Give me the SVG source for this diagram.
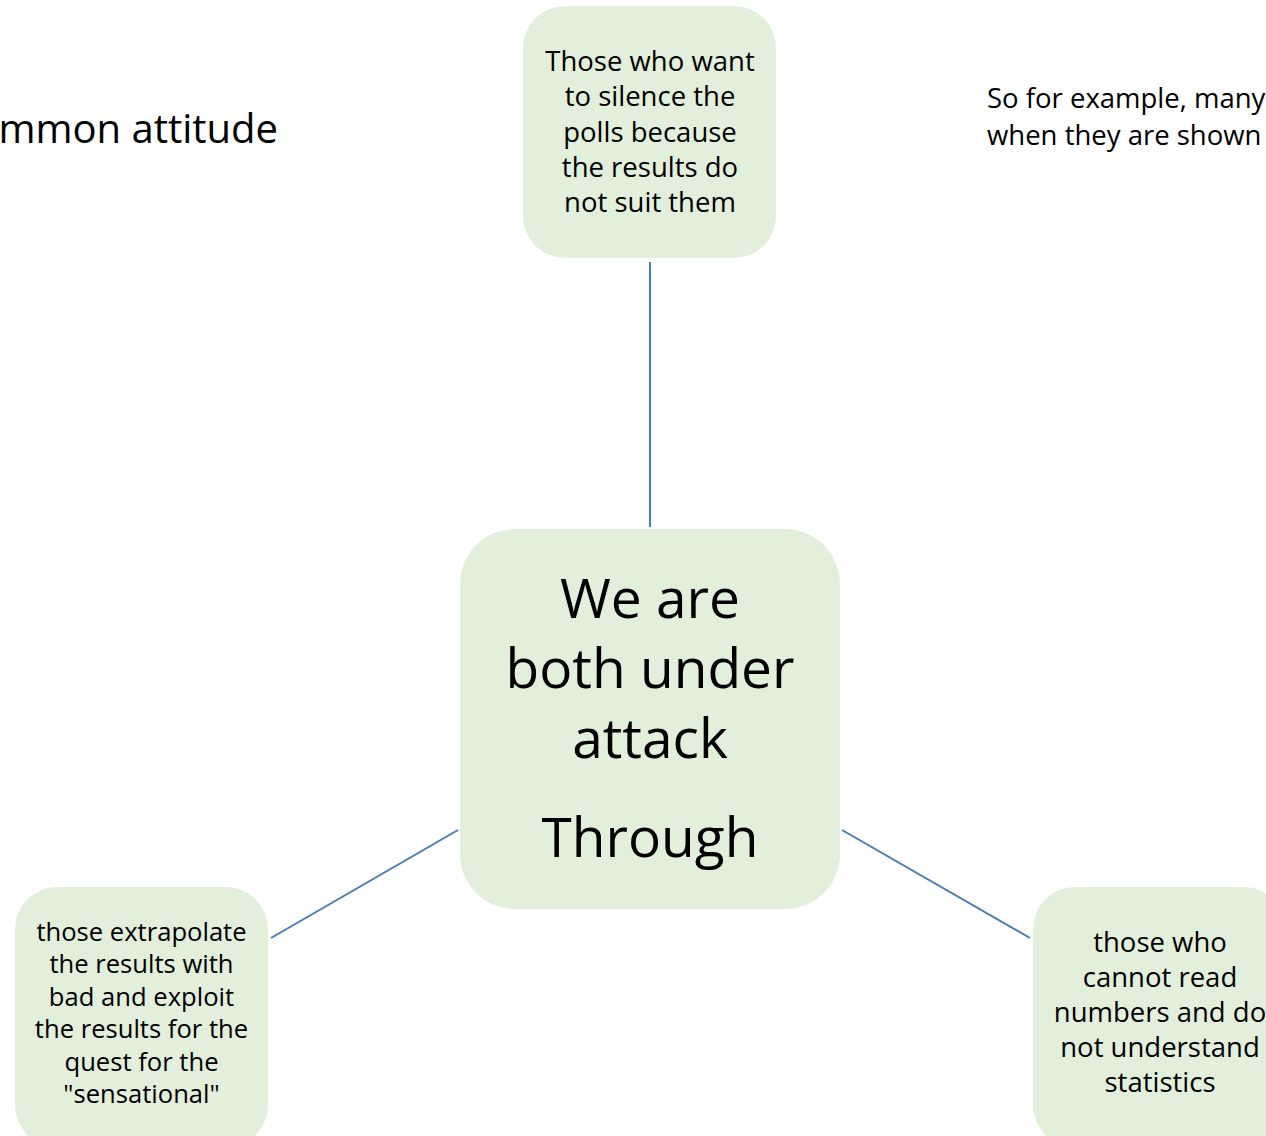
<svg xmlns="http://www.w3.org/2000/svg" width="1266" height="1136" viewBox="0 0 1266 1136">
<style>
.box{fill:#e2efda;stroke:none}
.t{font-family:"Open Sans","Noto Sans",sans-serif;fill:#000;text-anchor:middle}
.s{font-size:27.5px}
.m{font-size:25.6px}
.b{font-size:55px}
.conn{stroke:#4a7bb0;stroke-width:2;fill:none}
</style>
<rect width="1266" height="1136" fill="#ffffff"/>
<text class="t" x="278" y="143" style="font-size:40px;text-anchor:end">A common attitude</text>
<text class="t s" x="987" y="108" style="text-anchor:start">So for example, many</text>
<text class="t s" x="987" y="145" style="text-anchor:start">when they are shown</text>
<g id="connectors">
<line class="conn" x1="650" y1="262" x2="650" y2="527"/>
<line class="conn" x1="458" y1="830" x2="271" y2="938"/>
<line class="conn" x1="842" y1="830" x2="1030" y2="938"/>
</g>
<g id="node-top">
<rect class="box" x="523" y="6" width="253" height="252" rx="42"/>
<text class="t s" x="650" y="71">Those who want</text>
<text class="t s" x="650" y="106">to silence the</text>
<text class="t s" x="650" y="141.5">polls because</text>
<text class="t s" x="650" y="177">the results do</text>
<text class="t s" x="650" y="212">not suit them</text>
</g>
<g id="node-center">
<rect class="box" x="460" y="529" width="380" height="380" rx="55"/>
<text class="t b" x="650" y="618">We are</text>
<text class="t b" x="650" y="688">both under</text>
<text class="t b" x="650" y="758">attack</text>
<text class="t b" x="650" y="857">Through</text>
</g>
<g id="node-left">
<rect class="box" x="15" y="887" width="253" height="260" rx="42"/>
<text class="t m" x="141.5" y="941">those extrapolate</text>
<text class="t m" x="141.5" y="973.4">the results with</text>
<text class="t m" x="141.5" y="1005.8">bad and exploit</text>
<text class="t m" x="141.5" y="1038.2">the results for the</text>
<text class="t m" x="141.5" y="1070.6">quest for the</text>
<text class="t m" x="141.5" y="1103">"sensational"</text>
</g>
<g id="node-right">
<rect class="box" x="1033" y="887" width="253" height="260" rx="42"/>
<text class="t s" x="1160" y="952">those who</text>
<text class="t s" x="1160" y="987">cannot read</text>
<text class="t s" x="1160" y="1022">numbers and do</text>
<text class="t s" x="1160" y="1057">not understand</text>
<text class="t s" x="1160" y="1092">statistics</text>
</g>
</svg>
